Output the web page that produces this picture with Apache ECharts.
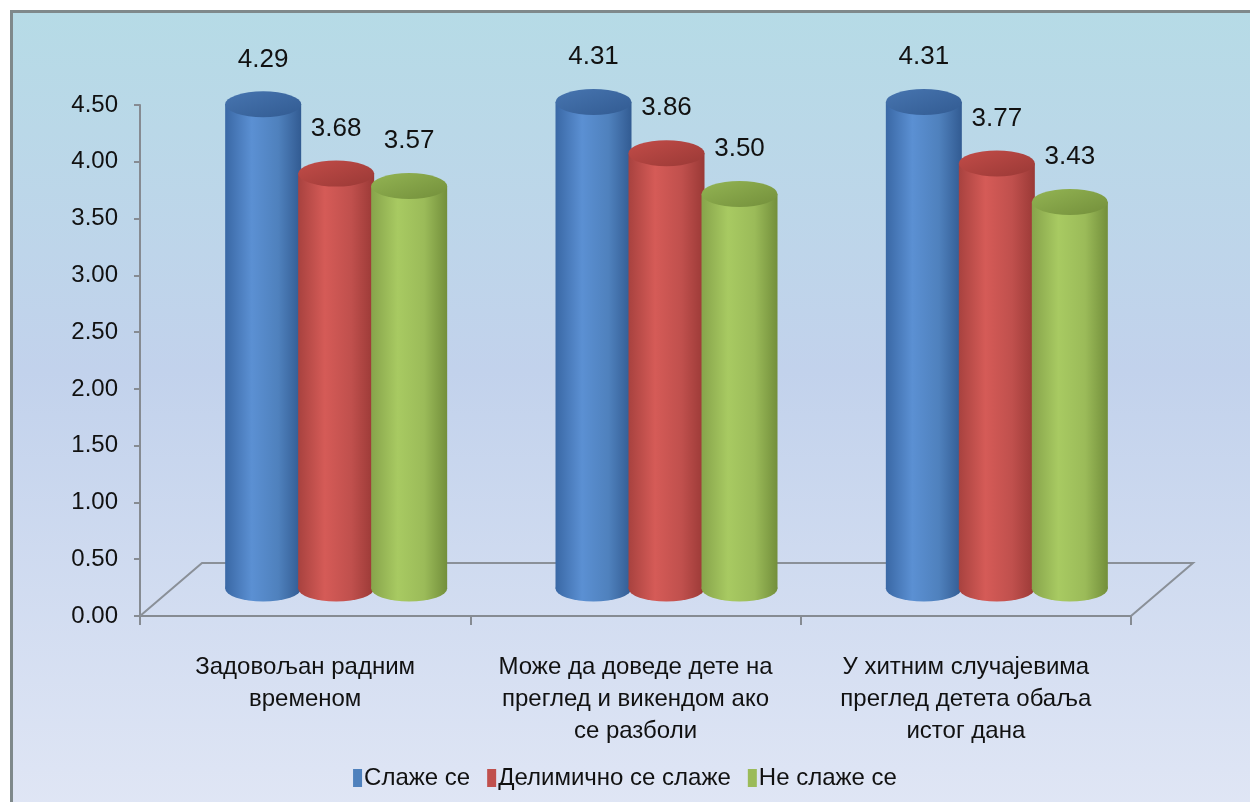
<!DOCTYPE html>
<html>
<head>
<meta charset="utf-8">
<style>
  html, body { margin: 0; padding: 0; background: #ffffff; }
  #chart { width: 1250px; height: 802px; }
</style>
<script src="https://cdn.jsdelivr.net/npm/echarts@6/dist/echarts.min.js"></script>
</head>
<body>
<div id="chart"></div>
<script>
// Categories, series and axis ticks
const categories = [
  'Задовољан радним\nвременом',
  'Може да доведе дете на\nпреглед и викендом ако\nсе разболи',
  'У хитним случајевима\nпреглед детета обаља\nистог дана'
];
const seriesNames = ['Слаже се', 'Делимично се слаже', 'Не слаже се'];
const agree = [4.29, 4.31, 4.31];
const partly = [3.68, 3.86, 3.77];
const disagree = [3.57, 3.50, 3.43];
const yTicks = { min: 0, max: 4.5, step: 0.5 };

// Cylinder palettes: edge / highlight / edge, cap colour
const palettes = [
  { base: '#4f81bd', edgeL: '#3a68a5', hi: '#5b90d3', edgeR: '#325b92', cap: '#4775b0' },
  { base: '#c0504d', edgeL: '#a8423f', hi: '#d55b57', edgeR: '#9a3936', cap: '#c24c48' },
  { base: '#9bbb59', edgeL: '#87a44b', hi: '#a8ca62', edgeR: '#738f3b', cap: '#93b453' }
];

// 3D floor depth (px)
const DEPTH_X = 62, DEPTH_Y = -53;
const BAR_W = 76, BAR_STEP = 73, CAP_RY = 13;
const FONT = 'Liberation Sans, Arial, sans-serif';

function bodyGradient(p) {
  return new echarts.graphic.LinearGradient(0, 0, 1, 0, [
    { offset: 0, color: p.edgeL },
    { offset: 0.35, color: p.hi },
    { offset: 0.7, color: p.base },
    { offset: 1, color: p.edgeR }
  ]);
}
function capGradient(p) {
  return new echarts.graphic.LinearGradient(0, 0, 1, 1, [
    { offset: 0, color: p.cap },
    { offset: 1, color: p.edgeR }
  ]);
}

function cylinderRenderer(sIdx) {
  const p = palettes[sIdx];
  return function (params, api) {
    const cat = api.value(0);
    const v = api.value(1);
    const top = api.coord([cat, v]);
    const base = api.coord([cat, 0]);
    const cx = top[0] + DEPTH_X / 2 + (sIdx - 1) * BAR_STEP;
    const yTop = top[1] + DEPTH_Y / 2 + 2;
    const yBase = base[1] + DEPTH_Y / 2 - 1;
    const rx = BAR_W / 2;
    const grad = bodyGradient(p);
    return {
      type: 'group',
      children: [
        { type: 'circle', x: cx, y: yBase, scaleY: CAP_RY / rx,
          shape: { cx: 0, cy: 0, r: rx }, style: { fill: grad } },
        { type: 'rect', shape: { x: cx - rx, y: yTop, width: BAR_W, height: yBase - yTop },
          style: { fill: grad } },
        { type: 'circle', x: cx, y: yTop, scaleY: CAP_RY / rx,
          shape: { cx: 0, cy: 0, r: rx }, style: { fill: capGradient(p) } },
        { type: 'text', x: cx, y: yTop - CAP_RY - 19,
          style: { text: v.toFixed(2), align: 'center', verticalAlign: 'bottom',
                   fontSize: 26, fontFamily: FONT, fill: '#111111' } }
      ]
    };
  };
}

function floorRenderer(params, api) {
  const cs = params.coordSys;
  const x0 = cs.x, x1 = cs.x + cs.width, y0 = cs.y + cs.height;
  return {
    type: 'polyline',
    shape: { points: [[x0, y0], [x0 + DEPTH_X, y0 + DEPTH_Y], [x1 + DEPTH_X, y0 + DEPTH_Y], [x1, y0]] },
    style: { stroke: '#8a9098', lineWidth: 2, fill: null }
  };
}

const values = [agree, partly, disagree];
const chart = echarts.init(document.getElementById('chart'), null, { renderer: 'canvas' });

const cylinderSeries = values.map((arr, i) => ({
  name: seriesNames[i],
  type: 'custom',
  renderItem: cylinderRenderer(i),
  itemStyle: { color: palettes[i].base },
  data: arr.map((v, c) => [c, v]),
  z: 3 + i
}));

chart.setOption({
  backgroundColor: '#ffffff',
  animation: false,
  graphic: [{
    type: 'rect', left: 10, top: 10, z: -10, silent: true,
    shape: { width: 1250, height: 800 },
    style: {
      stroke: '#7f898b', lineWidth: 3,
      fill: new echarts.graphic.LinearGradient(0, 0, 0, 1, [
        { offset: 0, color: '#b6dbe6' },
        { offset: 0.45, color: '#c2d2ec' },
        { offset: 1, color: '#e0e6f5' }
      ])
    }
  }],
  grid: { left: 140, right: 119, top: 105, bottom: 186, containLabel: false },
  legend: {
    data: seriesNames,
    left: 'center', top: 761,
    icon: 'rect', itemWidth: 9, itemHeight: 18, itemGap: 17,
    textStyle: { fontSize: 24, fontFamily: FONT, color: '#111111', padding: [0, 0, 0, -3] }
  },
  xAxis: {
    type: 'category',
    data: categories,
    axisLine: { lineStyle: { color: '#868b92', width: 2 } },
    axisTick: { show: true, interval: 0, length: 9, lineStyle: { color: '#868b92', width: 2 } },
    axisLabel: { interval: 0, hideOverlap: false, fontSize: 24, lineHeight: 32, margin: 35,
                 color: '#111111', fontFamily: FONT }
  },
  yAxis: {
    type: 'value',
    min: yTicks.min, max: yTicks.max, interval: yTicks.step,
    axisLine: { show: true, lineStyle: { color: '#868b92', width: 2 } },
    axisTick: { show: true, length: 6, lineStyle: { color: '#868b92', width: 2 } },
    splitLine: { show: false },
    axisLabel: { fontSize: 24, margin: 22, color: '#111111', fontFamily: FONT,
                 formatter: v => v.toFixed(2) }
  },
  series: [{
    name: 'floor', type: 'custom', renderItem: floorRenderer,
    data: [[0, 0]], silent: true, z: 1
  }].concat(cylinderSeries)
});
</script>
</body>
</html>
